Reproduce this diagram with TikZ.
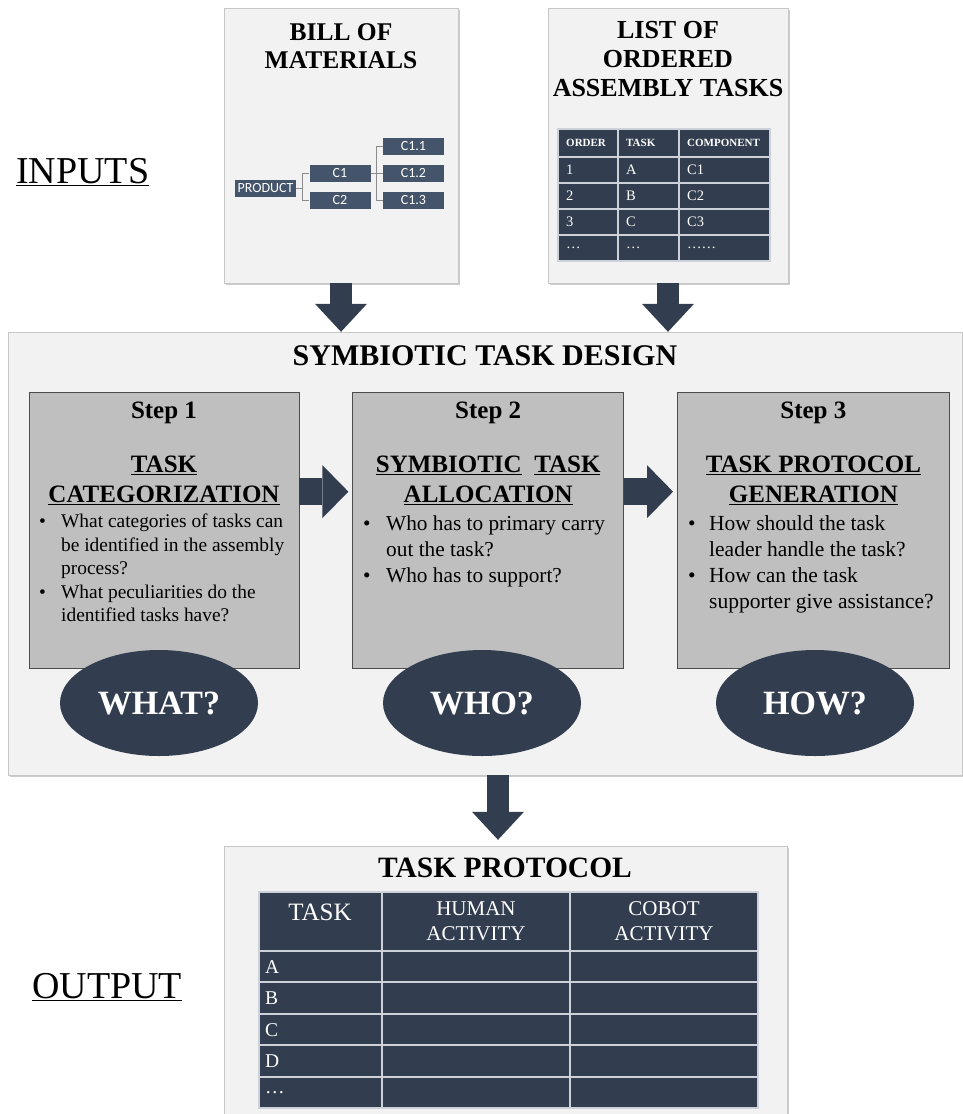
\documentclass[tikz,border=0pt]{standalone}
\usepackage{fontspec}
\setmainfont{Liberation Serif}
\newfontfamily\treefont{Carlito}
\usetikzlibrary{arrows.meta, shapes.geometric, shadows, calc, positioning}
\definecolor{slate}{RGB}{50,62,79}
\definecolor{bomblue}{RGB}{68,84,106}
\definecolor{panelgray}{RGB}{242,242,242}
\definecolor{stepgray}{RGB}{191,191,191}
\definecolor{gridline}{RGB}{205,210,218}
\newcommand{\fsz}[2]{\fontsize{#1}{#2}\selectfont}
\tikzset{
    panel/.style={draw=black!22, fill=panelgray, inner sep=0pt, drop shadow={shadow xshift=2pt, shadow yshift=-2pt, opacity=0.4, fill=black!50}},
    stepbox/.style={draw=black!70, fill=stepgray, line width=0.7pt, inner sep=0pt, minimum height=276pt},
    bubble/.style={ellipse, fill=slate, text=white, inner sep=0pt, minimum width=198pt, minimum height=106pt, font=\fsz{34}{40}\bfseries},
    downarrow/.style={draw=slate, line width=22pt, -{Triangle[width=52pt, length=28pt, line width=0pt]}},
    rightarrow/.style={draw=slate, line width=27pt, -{Triangle[width=53pt, length=26pt, line width=0pt]}},
    bomitem/.style={fill=bomblue, text=white, inner sep=0pt, minimum width=61pt, minimum height=17pt, font=\treefont\fsz{14}{16}},
    treeline/.style={draw=black!45, line width=1pt},
    cellline/.style={draw=gridline, line width=1.5pt},
    heading/.style={align=center, font=\fsz{25}{30}\bfseries},
    questions/.style={anchor=north west, inner sep=0pt, align=left},
}

\begin{document}
\begin{tikzpicture}[x=1pt, y=-1pt]
\useasboundingbox (0,0) rectangle (963,1114);
\clip (0,0) rectangle (963,1114);
% panels
\node[panel, minimum width=234pt, minimum height=275pt] (bom) at (341,145.5) {};
\node[panel, minimum width=240pt, minimum height=275pt] (tasklist) at (668,145.5) {};
\node[panel, minimum width=954pt, minimum height=443pt] (design) at (485,553.5) {};
\node[panel, minimum width=563pt, minimum height=274pt] (protocol) at (505.5,983) {};
% big arrows
\draw[downarrow] (bom.south) -- (bom.south |- design.north);
\draw[downarrow] (tasklist.south) -- (tasklist.south |- design.north);
\draw[downarrow] ($(design.south)+(13,0)$) -- ($(design.south |- protocol.north)+(13,-6)$);
% side labels
\node[anchor=base west, inner sep=0pt, font=\fsz{38}{44}] (inputs) at (16,183) {\underline{INPUTS}};
\node[anchor=base west, inner sep=0pt, font=\fsz{38}{44}] (output) at (32,998) {\underline{OUTPUT}};

% bill of materials
\node[font=\fsz{25.5}{28}\bfseries, align=center] (bomtitle) at (341,46) {BILL OF\\MATERIALS};
\node[bomitem] (product) at (265.5,188) {PRODUCT};
\node[bomitem] (c1) at (340,173.5) {C1};
\node[bomitem] (c2) at (340,200.5) {C2};
\node[bomitem] (c11) at (413.5,146.5) {C1.1};
\node[bomitem] (c12) at (413.5,173.5) {C1.2};
\node[bomitem] (c13) at (413.5,200) {C1.3};
\coordinate (j1) at ($(product.east)+(6.5,0)$);
\coordinate (j2) at ($(c1.east)+(6,0)$);
\draw[treeline] (product.east) -- (j1);
\draw[treeline] (c1.west) -| (j1);
\draw[treeline] (c2.west) -| (j1);
\draw[treeline] (c1.east) -- (c12.west);
\draw[treeline] (c11.west) -| (j2);
\draw[treeline] (c13.west) -| (j2);

% list of ordered assembly tasks
\node[font=\fsz{26}{29}\bfseries, align=center] (listtitle) at (668,59) {LIST OF\\ORDERED\\ASSEMBLY TASKS};
\fill[slate] (558,129) rectangle (770,261);
\foreach \y in {157,183,209,235} \draw[cellline] (558,\y) -- (770,\y);
\foreach \x in {618,679} \draw[cellline] (\x,129) -- (\x,261);
\draw[cellline] (558,129) rectangle (770,261);
\foreach \x/\t [count=\i] in {566/ORDER, 626/TASK, 687/COMPONENT}
    \node[anchor=west, inner sep=0pt, text=white, font=\fsz{11}{13}\bfseries] (lh\i) at (\x,143) {\t};
\foreach \y/\a/\b/\c [count=\r] in {170/1/A/C1, 196/2/B/C2, 222/3/C/C3, 248/\dots/\dots/\dots\dots} {
    \node[anchor=west, inner sep=0pt, text=white, font=\fsz{14.5}{17}] (la\r) at (566,\y) {\a};
    \node[anchor=west, inner sep=0pt, text=white, font=\fsz{14.5}{17}] (lb\r) at (626,\y) {\b};
    \node[anchor=west, inner sep=0pt, text=white, font=\fsz{14.5}{17}] (lc\r) at (687,\y) {\c};
}

% symbiotic task design
\node[font=\fsz{30}{36}\bfseries] (designtitle) at (485,356) {SYMBIOTIC TASK DESIGN};
\node[stepbox, minimum width=270pt] (step1) at (164,530) {};
\node[stepbox, minimum width=271pt, right=53pt of step1] (step2) {};
\node[stepbox, minimum width=272pt, right=53pt of step2] (step3) {};
\draw[rightarrow] ([yshift=-100pt]step1.north east) -- ([yshift=-100pt, xshift=-4pt]step2.north west);
\draw[rightarrow] ([yshift=-100pt]step2.north east) -- ([yshift=-100pt, xshift=-4pt]step3.north west);
% step 1
\node[heading] (num1) at (step1.north |- 0,413) {Step 1};
\node[heading] (title1) at (step1.north |- 0,480) {\underline{TASK}\\\underline{CATEGORIZATION}};
\node[questions, font=\fsz{19.4}{23.5}] (quest1) at (39,511) {%
\begin{tabular}{@{}p{22pt}@{}l@{}}
\textbullet & What categories of tasks can\\
 & be identified in the assembly\\
 & process?\\
\textbullet & What peculiarities do the\\
 & identified tasks have?
\end{tabular}};
% step 2
\node[heading] (num2) at (step2.north |- 0,413) {Step 2};
\node[heading] (title2) at (step2.north |- 0,480) {\underline{SYMBIOTIC}\ \ \underline{TASK}\\\underline{ALLOCATION}};
\node[questions, font=\fsz{21.3}{26}] (quest2) at (363,512) {%
\begin{tabular}{@{}p{23pt}@{}l@{}}
\textbullet & Who has to primary carry\\
 & out the task?\\
\textbullet & Who has to support?
\end{tabular}};
% step 3
\node[heading] (num3) at (step3.north |- 0,413) {Step 3};
\node[heading] (title3) at (step3.north |- 0,480) {\underline{TASK PROTOCOL}\\\underline{GENERATION}};
\node[questions, font=\fsz{21.5}{26}] (quest3) at (688,512) {%
\begin{tabular}{@{}p{21pt}@{}l@{}}
\textbullet & How should the task\\
 & leader handle the task?\\
\textbullet & How can the task\\
 & supporter give assistance?
\end{tabular}};
% what / who / how
\node[bubble] (what) at (159,703) {WHAT?};
\node[bubble] (who) at (482,703) {WHO?};
\node[bubble] (how) at (815,703) {HOW?};

% task protocol
\node[font=\fsz{29.5}{36}\bfseries] (prottitle) at (505,868) {TASK PROTOCOL};
\fill[slate] (259,892) rectangle (758,1108);
\foreach \y in {951,982,1014,1045,1077} \draw[cellline] (259,\y) -- (758,\y);
\foreach \x in {382,570} \draw[cellline] (\x,892) -- (\x,1108);
\draw[cellline] (259,892) rectangle (758,1108);
\node[text=white, font=\fsz{25}{28}] (ph1) at (320,912) {TASK};
\node[text=white, align=center, font=\fsz{21}{25}] (ph2) at (476,921) {HUMAN\\ACTIVITY};
\node[text=white, align=center, font=\fsz{21}{25}] (ph3) at (664,921) {COBOT\\ACTIVITY};
\foreach \y/\t [count=\r] in {967/A, 998/B, 1030/C, 1061/D, 1093/\dots}
    \node[anchor=west, inner sep=0pt, text=white, font=\fsz{19.5}{24}] (pr\r) at (265,\y) {\t};
\end{tikzpicture}
\end{document}
